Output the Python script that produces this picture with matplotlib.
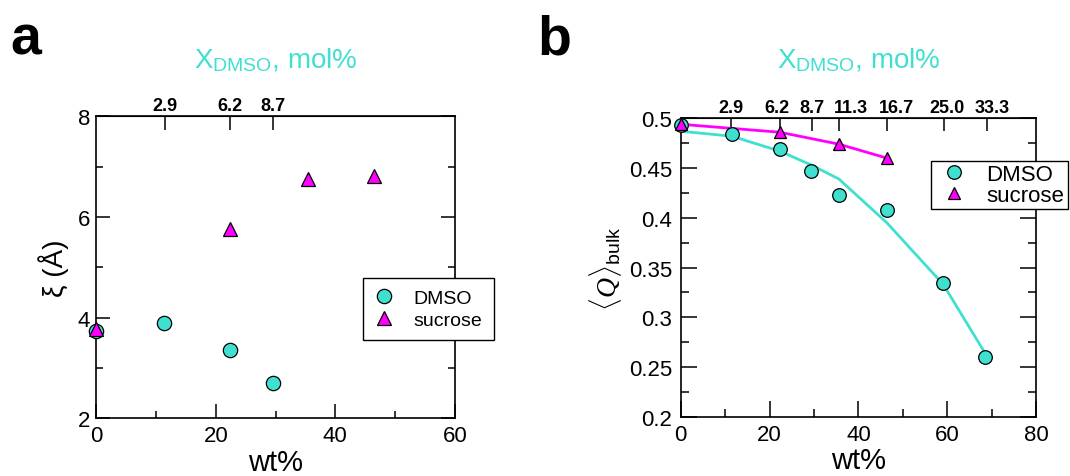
import matplotlib
matplotlib.use('Agg')
import matplotlib.pyplot as plt
from matplotlib import transforms
from matplotlib.ticker import MultipleLocator

plt.rcParams['font.family'] = ['Liberation Sans', 'DejaVu Sans']
plt.rcParams['mathtext.fontset'] = 'custom'
plt.rcParams['mathtext.rm'] = 'Liberation Sans'
plt.rcParams['mathtext.sf'] = 'Liberation Sans'
plt.rcParams['mathtext.it'] = 'Liberation Serif:italic'

TURQ = '#40E0D0'
MAG = '#FF00FF'

# panel a: correlation length xi (A) vs wt%
a_dmso_wt = [0.0, 11.4, 22.3, 29.5]
a_dmso_xi = [3.74, 3.89, 3.36, 2.71]
a_suc_wt = [0.0, 22.3, 35.5, 46.5]
a_suc_xi = [3.77, 5.76, 6.75, 6.82]
a_mol_ticks = [11.5, 22.4, 29.6]
a_mol_labels = ['2.9', '6.2', '8.7']

# panel b: <Q>_bulk vs wt%
b_dmso_wt = [0.0, 11.5, 22.3, 29.4, 35.6, 46.4, 59.1, 68.5]
b_dmso_q = [0.493, 0.484, 0.469, 0.447, 0.423, 0.408, 0.334, 0.260]
b_dmso_fit = [0.487, 0.482, 0.467, 0.453, 0.439, 0.395, 0.333, 0.264]
b_suc_wt = [0.0, 22.3, 35.6, 46.4]
b_suc_q = [0.494, 0.486, 0.474, 0.460]
b_mol_ticks = [11.3, 22.4, 29.6, 35.6, 46.5, 59.2, 69.0]
b_mol_labels = ['2.9', '6.2', '8.7', '11.3', '16.7', '25.0', '33.3']

fig = plt.figure(figsize=(10.7, 4.77), dpi=100)
ax1 = fig.add_axes([0.0900, 0.1210, 0.3350, 0.6330])
ax2 = fig.add_axes([0.6362, 0.1243, 0.3321, 0.6256])


def style(ax, major, minor, ypad):
    for s in ax.spines.values():
        s.set_linewidth(1.2)
    ax.tick_params(which='both', direction='in', right=True, top=False, labelsize=16, width=1.1)
    ax.tick_params(axis='x', pad=5)
    ax.tick_params(axis='y', pad=ypad)
    ax.tick_params(which='major', length=major)
    ax.tick_params(which='minor', length=minor)


def top_axis(ax, ticks, labels, length, nudge, ytitle):
    top = ax.secondary_xaxis('top')
    top.set_xticks(ticks)
    top.tick_params(direction='in', length=length, width=1.1, labeltop=False)
    for x, lab, dx in zip(ticks, labels, nudge):
        tr = transforms.offset_copy(ax.get_xaxis_transform(), fig=fig, x=dx, y=6, units='dots')
        ax.text(x, 1.0, lab, transform=tr, ha='center', va='baseline', fontsize=13, fontweight='bold')
    ax.text(0.5, ytitle, r'X$_{\rm DMSO}$, mol%', transform=ax.transAxes, ha='center', va='baseline',
            color=TURQ, fontsize=20)


# panel a
ax1.plot(a_dmso_wt, a_dmso_xi, 'o', color=TURQ, label='DMSO', markeredgecolor='black',
         markeredgewidth=0.9, markersize=10.3, clip_on=False, zorder=5)
ax1.plot(a_suc_wt, a_suc_xi, '^', color=MAG, label='sucrose', markeredgecolor='black',
         markeredgewidth=0.9, markersize=9.6, clip_on=False, zorder=6)
ax1.set_xlim(0, 60)
ax1.set_ylim(2, 8)
ax1.xaxis.set_major_locator(MultipleLocator(20))
ax1.xaxis.set_minor_locator(MultipleLocator(10))
ax1.yaxis.set_major_locator(MultipleLocator(2))
ax1.yaxis.set_minor_locator(MultipleLocator(1))
style(ax1, 10, 5, 4.5)
ax1.set_xlabel('wt%', fontsize=21, labelpad=1)
ax1.set_ylabel('ξ (Å)', fontsize=20, labelpad=6)
top_axis(ax1, a_mol_ticks, a_mol_labels, 10, [0, 0, 0], 1.163)
leg1 = ax1.legend(loc='upper left', bbox_to_anchor=(0.744, 0.465), borderaxespad=0, fontsize=14,
                  frameon=True, fancybox=False, edgecolor='black', framealpha=1, handlelength=1.0,
                  handletextpad=1.0, borderpad=0.6, labelspacing=0.2)
leg1.get_frame().set_linewidth(1.0)

# panel b
ax2.plot(b_dmso_wt, b_dmso_fit, '-', color=TURQ, lw=2, zorder=3)
ax2.plot(b_suc_wt, b_suc_q, '-', color=MAG, lw=2, zorder=3)
ax2.plot(b_dmso_wt, b_dmso_q, 'o', color=TURQ, label='DMSO', markeredgecolor='black',
         markeredgewidth=0.9, markersize=9.8, clip_on=False, zorder=5)
ax2.plot(b_suc_wt, b_suc_q, '^', color=MAG, label='sucrose', markeredgecolor='black',
         markeredgewidth=0.9, markersize=9.3, clip_on=False, zorder=6)
ax2.set_xlim(0, 80)
ax2.set_ylim(0.2, 0.5)
ax2.xaxis.set_major_locator(MultipleLocator(20))
ax2.xaxis.set_minor_locator(MultipleLocator(10))
ax2.yaxis.set_minor_locator(MultipleLocator(0.025))
ax2.set_yticks([0.2, 0.25, 0.3, 0.35, 0.4, 0.45, 0.5])
ax2.set_yticklabels(['0.2', '0.25', '0.3', '0.35', '0.4', '0.45', '0.5'])
style(ax2, 11.5, 6, 6)
ax2.set_xlabel('wt%', fontsize=21, labelpad=1)
ax2.set_ylabel(r'$\langle\mathit{Q}\rangle_{\rm bulk}$', fontsize=20, labelpad=4)
top_axis(ax2, b_mol_ticks, b_mol_labels, 9, [0, -3, 0, 12, 9, 3, 5], 1.172)
leg2 = ax2.legend(loc='upper left', bbox_to_anchor=(0.704, 0.858), borderaxespad=0, fontsize=16,
                  frameon=True, fancybox=False, edgecolor='black', framealpha=1, handlelength=1.75,
                  handletextpad=0.6, borderpad=0.15, labelspacing=0.0)
leg2.get_frame().set_linewidth(1.0)

fig.text(0.010, 0.8847, 'a', fontsize=40, fontweight='bold', va='baseline')
fig.text(0.502, 0.8847, 'b', fontsize=40, fontweight='bold', va='baseline')

fig.savefig('out.png', dpi=100)
